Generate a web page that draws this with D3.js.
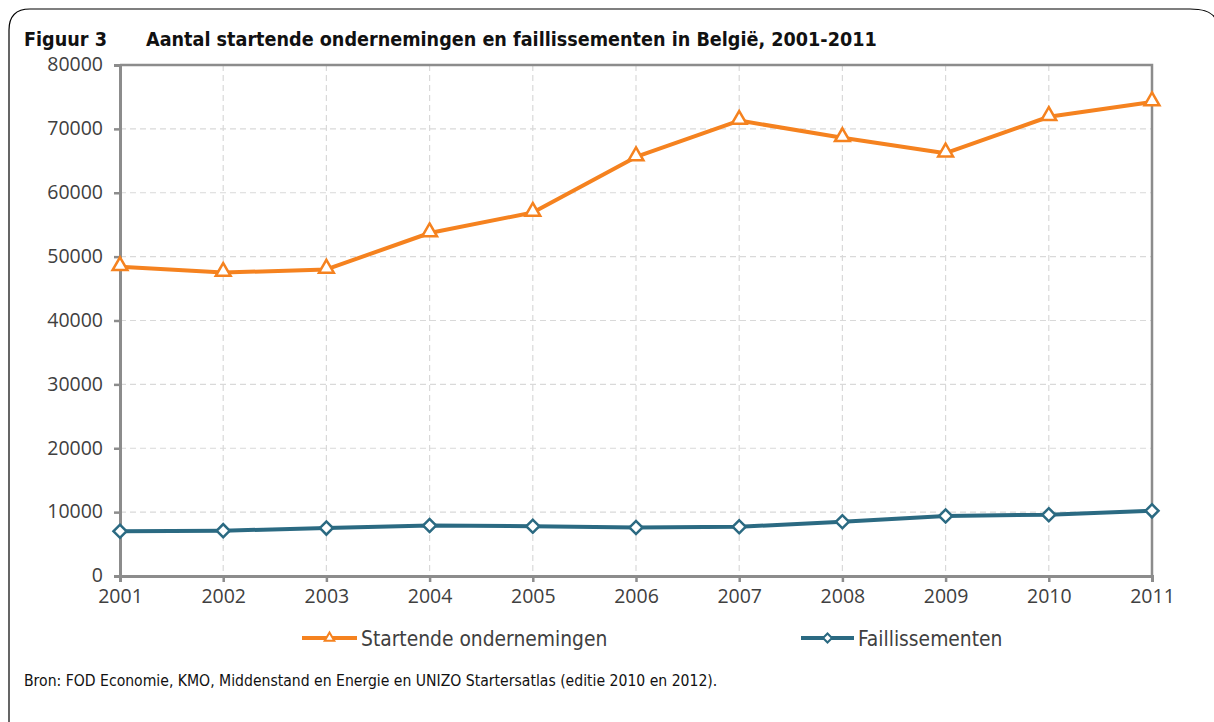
<!DOCTYPE html>
<html lang="nl">
<head>
<meta charset="UTF-8">
<title>Figuur 3</title>
<script src="https://d3js.org/d3.v7.min.js"></script>
<style>
body { margin:0; background:#fff; }
svg text { fill:#404040; }
</style>
</head>
<body>
<div id="chart"></div>
<script>
// Data
var years = [2001, 2002, 2003, 2004, 2005, 2006, 2007, 2008, 2009, 2010, 2011];
var startende = [48400, 47500, 48000, 53700, 56900, 65600, 71300, 68600, 66200, 71900, 74200];
var faillissementen = [7000, 7100, 7500, 7900, 7800, 7600, 7700, 8500, 9400, 9600, 10200];
var yTicks = [0, 10000, 20000, 30000, 40000, 50000, 60000, 70000, 80000];
var seriesNames = ["Startende ondernemingen", "Faillissementen"];

var W = 1214, H = 722;
var margin = { top: 65, right: 62, bottom: 146, left: 120 };
var width = W - margin.left - margin.right,
    height = H - margin.top - margin.bottom;

var orange = "#f5821f", teal = "#2b6a82", axisGrey = "#8c8c8c";

var svg = d3.select("#chart").append("svg")
  .attr("width", W).attr("height", H);

// frame of the figure
svg.append("path")
  .attr("d", "M9,740 L9,30 Q9,9 30,9 L1190,9 Q1212,9 1216,20")
  .attr("fill", "none").attr("stroke", "#000").attr("stroke-width", 1.2);

svg.append("text").attr("x", 24).attr("y", 46)
  .attr("font-family", "'DejaVu Sans Condensed', 'DejaVu Sans'")
  .attr("font-weight", "bold").attr("font-size", 19.6)
  .style("fill", "#111").text("Figuur 3");
svg.append("text").attr("x", 146).attr("y", 46)
  .attr("font-family", "'DejaVu Sans Condensed', 'DejaVu Sans'")
  .attr("font-weight", "bold").attr("font-size", 19.6)
  .style("fill", "#111").text("Aantal startende ondernemingen en faillissementen in België, 2001-2011");

var g = svg.append("g").attr("transform", "translate(" + margin.left + "," + margin.top + ")");

var x = d3.scalePoint().domain(years).range([0, width]);
var y = d3.scaleLinear().domain([0, 80000]).range([height, 0]);

// grid
g.append("g").selectAll("line").data(yTicks.slice(1, -1)).enter().append("line")
  .attr("x1", 0).attr("x2", width)
  .attr("y1", function (d) { return y(d); }).attr("y2", function (d) { return y(d); })
  .attr("stroke", "#d9d9d9").attr("stroke-width", 1.2).attr("stroke-dasharray", "6,4");
g.append("g").selectAll("line").data(years.slice(1, -1)).enter().append("line")
  .attr("y1", 0).attr("y2", height)
  .attr("x1", function (d) { return x(d); }).attr("x2", function (d) { return x(d); })
  .attr("stroke", "#d9d9d9").attr("stroke-width", 1.2).attr("stroke-dasharray", "6,4");

// plot frame (top and right)
g.append("path").attr("d", "M0,0 H" + width + " V" + height)
  .attr("fill", "none").attr("stroke", axisGrey).attr("stroke-width", 2.5);

// axes
var yAxis = g.append("g").call(d3.axisLeft(y).tickValues(yTicks).tickSize(6).tickPadding(11).tickFormat(d3.format("d")));
var xAxis = g.append("g").attr("transform", "translate(0," + height + ")")
  .call(d3.axisBottom(x).tickSize(6).tickPadding(3).tickFormat(d3.format("d")));
[yAxis, xAxis].forEach(function (a) {
  a.select(".domain").attr("stroke", axisGrey).attr("stroke-width", 3);
  a.selectAll(".tick line").attr("stroke", axisGrey).attr("stroke-width", 2.5);
  a.selectAll("text").attr("font-family", "'Open Sans', sans-serif").attr("font-size", 19.5).style("fill", "#404040");
});
yAxis.selectAll("text").attr("dy", "0.3em");
xAxis.selectAll("text").attr("dy", "0.9em");

var line = d3.line().x(function (d, i) { return x(years[i]); }).y(function (d) { return y(d); });

// startende
g.append("path").datum(startende).attr("d", line)
  .attr("fill", "none").attr("stroke", orange).attr("stroke-width", 4).attr("stroke-linejoin", "round");
var tri = d3.symbol().type(d3.symbolTriangle).size(95);
g.append("g").selectAll("path").data(startende).enter().append("path")
  .attr("d", tri)
  .attr("transform", function (d, i) { return "translate(" + x(years[i]) + "," + (y(d) - 1) + ")"; })
  .attr("fill", "#fff").attr("stroke", orange).attr("stroke-width", 2.5);

// faillissementen
g.append("path").datum(faillissementen).attr("d", line)
  .attr("fill", "none").attr("stroke", teal).attr("stroke-width", 4).attr("stroke-linejoin", "round");
var dia = d3.symbol().type(d3.symbolSquare).size(85);
g.append("g").selectAll("path").data(faillissementen).enter().append("path")
  .attr("d", dia)
  .attr("transform", function (d, i) { return "translate(" + x(years[i]) + "," + y(d) + ") rotate(45)"; })
  .attr("fill", "#fff").attr("stroke", teal).attr("stroke-width", 2.5);

// legend
var legend = [
  { name: seriesNames[0], color: orange, sym: d3.symbol().type(d3.symbolTriangle).size(40), rot: 0, x: 302, len: 55 },
  { name: seriesNames[1], color: teal, sym: d3.symbol().type(d3.symbolSquare).size(40), rot: 45, x: 801, len: 53 }
];
var lg = svg.append("g").selectAll("g").data(legend).enter().append("g")
  .attr("transform", function (d) { return "translate(" + d.x + ",638)"; });
lg.append("line").attr("x1", 0).attr("x2", function (d) { return d.len; })
  .attr("stroke", function (d) { return d.color; }).attr("stroke-width", 4);
lg.append("path").attr("d", function (d) { return d.sym(); })
  .attr("transform", function (d) { return "translate(" + (d.len / 2) + ",0) rotate(" + d.rot + ")"; })
  .attr("fill", "#fff").attr("stroke", function (d) { return d.color; }).attr("stroke-width", 2);
lg.append("text").attr("x", function (d) { return d.len + 4; }).attr("y", 8)
  .attr("font-family", "'DejaVu Sans Condensed', sans-serif").attr("font-size", 20.8)
  .text(function (d) { return d.name; });

svg.append("text").attr("x", 24).attr("y", 686)
  .attr("font-family", "'DejaVu Sans Condensed', sans-serif").attr("font-size", 15.6)
  .style("fill", "#111")
  .text("Bron: FOD Economie, KMO, Middenstand en Energie en UNIZO Startersatlas (editie 2010 en 2012).");
</script>
</body>
</html>
